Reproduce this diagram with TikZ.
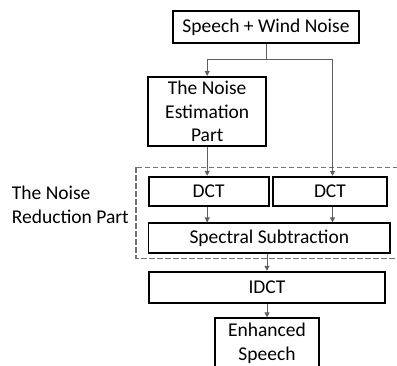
\documentclass[tikz,border=0pt]{standalone}
\usepackage{fontspec}
\setmainfont{Carlito}
\usetikzlibrary{arrows.meta,calc}
\definecolor{conncol}{RGB}{95,95,95}
\definecolor{dashcol}{RGB}{115,115,115}
\tikzset{
  box/.style={draw=black, line width=1.8pt, fill=white, inner sep=0pt, align=center,
    font=\fontsize{19.5}{23.5}\selectfont},
  conn/.style={draw=conncol, line width=1pt},
  arr/.style={conn, -{Triangle[length=5pt,width=5pt]}},
  grp/.style={draw=dashcol, line width=1.6pt, dash pattern=on 5.5pt off 2.5pt},
  lbl/.style={inner sep=0pt, align=left, font=\fontsize{19.5}{24}\selectfont}
}
\begin{document}
\begin{tikzpicture}[x=1pt,y=-1pt]
\useasboundingbox (0,0) rectangle (397,365);
\clip (0,0) rectangle (397,365);
\node[box, minimum width=186pt, minimum height=32pt] (sw) at (266,27) {Speech + Wind Noise};
\node[box, minimum width=118pt, minimum height=69pt] (ne) at (207.2,111.3) {The Noise\\Estimation\\Part};
\node[box, minimum width=120pt, minimum height=29pt] (dct1) at (208.7,191.2) {DCT};
\node[box, minimum width=113.5pt, minimum height=29pt] (dct2) at (330,191.2) {DCT};
\node[box, minimum width=241.5pt, minimum height=30pt] (ss) at (269.3,238.3) {Spectral Subtraction};
\node[box, minimum width=236pt, minimum height=31pt] (idct) at (267,287.2) {IDCT};
\node[box, minimum width=104pt, minimum height=50pt] (enh) at (267,343.3) {Enhanced\\Speech};
\node[lbl, anchor=west] (nrp) at (11.7,204.5) {The Noise\\Reduction Part};
\draw[grp] (136,167.3) rectangle (420,258.3);
\coordinate (split) at (266,59.5);
\coordinate (xr) at (332.5,0);
\draw[conn] (sw.south) -- (split);
\draw[arr] (split) -| (ne.north);
\draw[arr] (split) -| (dct2.north -| xr);
\draw[arr] (ne.south) -- (ne.south |- dct1.north);
\draw[arr] (ne.south |- dct1.south) -- (ne.south |- ss.north);
\draw[arr] (dct2.south -| xr) -- (ss.north -| xr);
\draw[arr] (ss.south -| idct.north) -- (idct.north);
\draw[arr] (idct.south) -- (enh.north);
\end{tikzpicture}
\end{document}
